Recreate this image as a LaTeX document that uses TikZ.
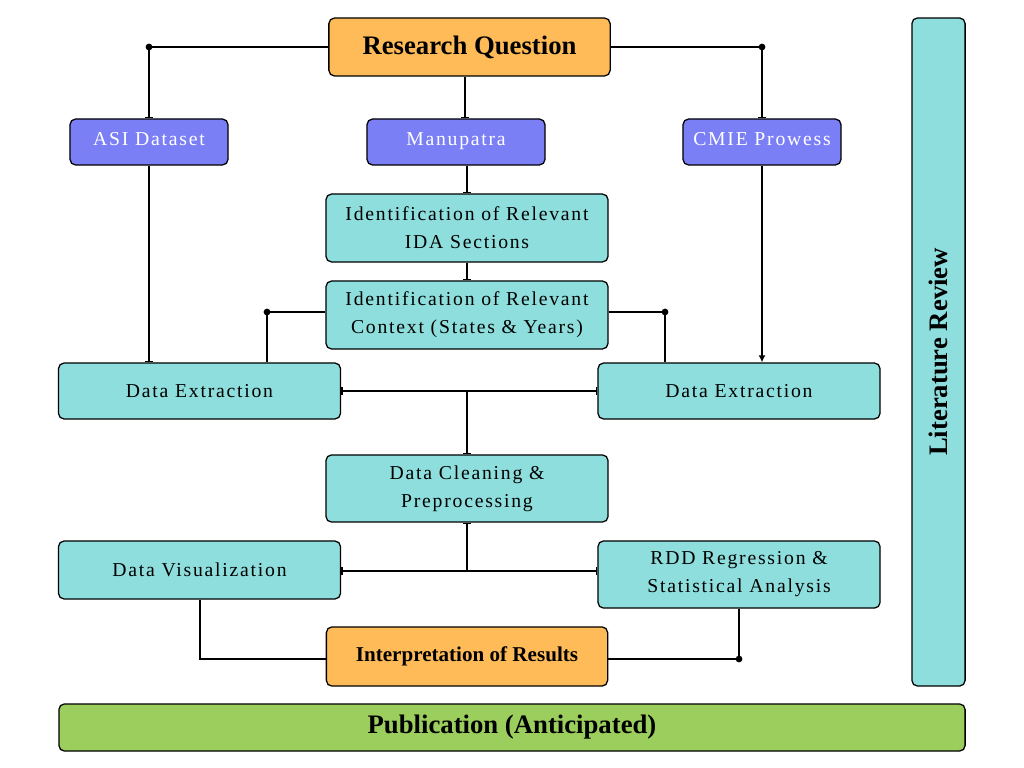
\documentclass[tikz,border=0pt]{standalone}
\usepackage{fontspec}
\setmainfont{Liberation Serif}
\newfontfamily\spacedFont[LetterSpace=9]{Liberation Serif}
\usetikzlibrary{arrows.meta}
\definecolor{questionOrange}{RGB}{255,187,87}
\definecolor{sourceBlue}{RGB}{123,127,245}
\definecolor{stepCyan}{RGB}{141,222,220}
\definecolor{publishGreen}{RGB}{155,206,92}
\newcommand{\junctionDot}[1]{%%
  \fill (#1) circle (2.4pt);
}

\begin{document}
\begin{tikzpicture}[%%
  x=0.025cm,y=-0.025cm,%%
  boxStyle/.style={draw,line width=0.9pt,rounded corners=4pt,inner sep=2pt,align=center,text=black},%%
  sourceStyle/.style={boxStyle,fill=sourceBlue,text=white,minimum height=1.15cm,text height=10pt,text depth=5pt,font=\fontsize{14}{20}\spacedFont},%%
  stepStyle/.style={boxStyle,fill=stepCyan,minimum width=7.05cm,font=\fontsize{14}{20}\spacedFont},%%
  keyStyle/.style={boxStyle,fill=questionOrange,minimum width=7.03cm},%%
  barLine/.style={-{Bar[width=5pt,line width=1pt]},line width=1.1pt},%%
  triLine/.style={-{Latex[length=5pt,width=5pt]},line width=1.1pt},%%
  plainLine/.style={-,line width=1.1pt}
]
%%
\useasboundingbox (0,0) rectangle (1024,768);
%% The question and the three sources.
\node[keyStyle,minimum height=1.45cm,font=\fontsize{19}{23}\bfseries] (question) at (469.5,47) {Research Question};
\node[sourceStyle,minimum width=3.95cm] (asi) at (149,142) {ASI Dataset};
\node[sourceStyle,minimum width=4.45cm] (manupatra) at (456,142) {Manupatra};
\node[sourceStyle,minimum width=3.95cm] (cmie) at (762,142) {CMIE Prowess};
%% The steps.
\node[stepStyle,minimum height=1.7cm] (idaSections) at (467,228) {Identification of Relevant\\IDA Sections};
\node[stepStyle,minimum height=1.7cm] (context) at (467,315) {Identification of Relevant\\Context (States \& Years)};
\node[stepStyle,minimum height=1.4cm] (extractLeft) at (199.5,391) {Data Extraction};
\node[stepStyle,minimum height=1.4cm] (extractRight) at (739,391) {Data Extraction};
\node[stepStyle,minimum height=1.68cm] (cleaning) at (467,488.5) {Data Cleaning \&\\Preprocessing};
\node[stepStyle,minimum height=1.45cm] (visual) at (199.5,570) {Data Visualization};
\node[stepStyle,minimum height=1.68cm] (regression) at (739,574.5) {RDD Regression \&\\Statistical Analysis};
\node[keyStyle,minimum height=1.48cm,font=\fontsize{15}{18}\bfseries] (results) at (467,656.5) {Interpretation of Results};
%% The side bar and the bottom bar.
\node[boxStyle,fill=stepCyan,rotate=90,minimum width=16.7cm,minimum height=1.33cm,font=\fontsize{19}{23}\bfseries] (literature) at (938.5,352) {Literature Review};
\node[boxStyle,fill=publishGreen,minimum width=22.65cm,minimum height=1.18cm,font=\fontsize{19}{23}\bfseries] (publication) at (512,727.5) {Publication (Anticipated)};
%%
%% From the question to the sources.
\coordinate (middleX) at (465,0);
\draw[barLine] (question.west) -| (asi.north);
\junctionDot{asi.north |- question.west}
\draw[barLine] (question.east) -| (cmie.north);
\junctionDot{cmie.north |- question.east}
\draw[barLine] (middleX |- question.south) -- (middleX |- manupatra.north);
%% Down the middle.
\draw[barLine] (idaSections.north |- manupatra.south) -- (idaSections.north);
\draw[barLine] (idaSections.south) -- (context.north);
%% Into the two extractions.
\coordinate (contextLeft) at (267,312);
\coordinate (contextRight) at (665,312);
\draw[plainLine] (context.west |- contextLeft) -- (contextLeft) -- (contextLeft |- extractLeft.north);
\junctionDot{contextLeft}
\draw[plainLine] (context.east |- contextRight) -- (contextRight) -- (contextRight |- extractRight.north);
\junctionDot{contextRight}
\draw[barLine] (asi.south) -- (asi.south |- extractLeft.north);
\draw[triLine] (cmie.south) -- (cmie.south |- extractRight.north);
%% Extractions and cleaning.
\coordinate (splitTop) at (cleaning.north |- extractLeft.east);
\draw[barLine] (splitTop) -- (cleaning.north);
\draw[barLine] (splitTop) -- (extractLeft.east);
\draw[barLine] (splitTop) -- (extractRight.west);
%% Cleaning, visualization and regression.
\coordinate (splitBottom) at (467,571);
\draw[barLine] (splitBottom) -- (cleaning.south);
\draw[barLine] (splitBottom) -- (visual.east |- splitBottom);
\draw[barLine] (splitBottom) -- (regression.west |- splitBottom);
%% Into the interpretation.
\coordinate (bottomY) at (0,659);
\coordinate (visualX) at (200,0);
\draw[plainLine] (visualX |- visual.south) |- (results.west |- bottomY);
\draw[plainLine] (regression.south) |- (results.east |- bottomY);
\junctionDot{regression.south |- bottomY}
\end{tikzpicture}
\end{document}
